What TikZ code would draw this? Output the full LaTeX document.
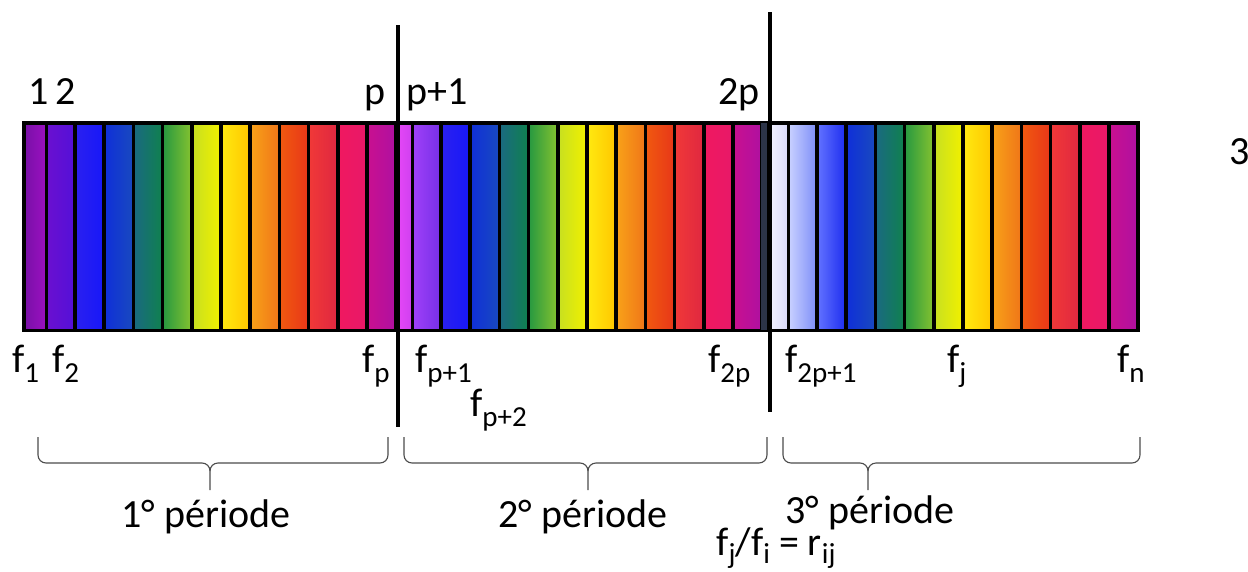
\documentclass[tikz,border=0pt]{standalone}
\usepackage{fontspec}
\setmainfont{Carlito}
\definecolor{p1l}{HTML}{7A10A8}\definecolor{p1r}{HTML}{9A10C0}
\definecolor{v1l}{HTML}{6A10D0}\definecolor{v1r}{HTML}{5510D8}
\definecolor{bl}{HTML}{2A20F0}\definecolor{br}{HTML}{1818F8}
\definecolor{qpl}{HTML}{E848F8}\definecolor{qpr}{HTML}{D040F0}
\definecolor{qvl}{HTML}{A040F8}\definecolor{qvr}{HTML}{7830E8}
\definecolor{wpl}{HTML}{F4F4FF}\definecolor{wpr}{HTML}{D8D8F8}
\definecolor{wvl}{HTML}{C8D0FF}\definecolor{wvr}{HTML}{8090F8}
\definecolor{wbl}{HTML}{6070FF}\definecolor{wbr}{HTML}{2030F0}
\definecolor{b2l}{HTML}{1030D8}\definecolor{b2r}{HTML}{1848C0}
\definecolor{tl}{HTML}{1A6A80}\definecolor{tr}{HTML}{108050}
\definecolor{gl}{HTML}{2A9A40}\definecolor{gr}{HTML}{80C030}
\definecolor{ygl}{HTML}{C8E020}\definecolor{ygr}{HTML}{F0F000}
\definecolor{yl}{HTML}{FFE810}\definecolor{yr}{HTML}{FFC800}
\definecolor{ol}{HTML}{F8A018}\definecolor{or}{HTML}{F07818}
\definecolor{orl}{HTML}{F05810}\definecolor{orr}{HTML}{E83818}
\definecolor{rl}{HTML}{F03838}\definecolor{rr}{HTML}{E02840}
\definecolor{cl}{HTML}{F01860}\definecolor{cr}{HTML}{E81868}
\definecolor{ml}{HTML}{C81090}\definecolor{mr}{HTML}{B010A0}
\definecolor{gapc}{HTML}{2C3448}
\newcommand\fs[1]{f\raisebox{-10pt}{\fontsize{29}{29}\selectfont #1}}
\newcommand\sbx[1]{\raisebox{-8pt}{\fontsize{29}{29}\selectfont #1}}
\begin{document}
\begin{tikzpicture}[x=1pt,y=-1pt,
  lbl/.style={anchor=base west, inner sep=0pt, font=\fontsize{40}{48}\selectfont},
  per/.style={anchor=base, inner sep=0pt, font=\fontsize{40}{48}\selectfont},
  stripebox/.style={draw=black, line width=0.8pt},
  bracepath/.style={draw=black!70, line width=1.1pt, line join=round},
  sepline/.style={draw=black, line width=3.5pt}]
\useasboundingbox[fill=white] (0,0) rectangle (1248,571);
% bar background
\fill[black] (22,121) rectangle (1140,332);
\fill[gapc] (761,123) rectangle (767,330);
% first narrow stripes
\draw[stripebox, left color=p1l, right color=p1r] (25,124) rectangle (45.5,329);
\draw[stripebox, left color=qpl, right color=qpr] (395.5,124) rectangle (411.5,329);
\draw[stripebox, left color=wpl, right color=wpr] (768.5,124) rectangle (787.5,329);
% k = 0 and 1 stripes (period specific)
\draw[stripebox, left color=v1l, right color=v1r] (47,124) rectangle ++(26.5,205);
\draw[stripebox, left color=bl, right color=br] (76.2,124) rectangle ++(26.5,205);
\draw[stripebox, left color=qvl, right color=qvr] (413,124) rectangle ++(26.5,205);
\draw[stripebox, left color=bl, right color=br] (442.2,124) rectangle ++(26.5,205);
\draw[stripebox, left color=wvl, right color=wvr] (789,124) rectangle ++(26.5,205);
\draw[stripebox, left color=wbl, right color=wbr] (818.2,124) rectangle ++(26.5,205);
% shared stripes
\foreach \s in {47,413,789}{
  \foreach \k/\ca/\cb in {2/b2l/b2r,3/tl/tr,4/gl/gr,5/ygl/ygr,6/yl/yr,7/ol/or,8/orl/orr,9/rl/rr,10/cl/cr,11/ml/mr}{
    \draw[stripebox, left color=\ca, right color=\cb] ({\s+\k*29.2},124) rectangle ++(26.5,205);
  }
}
% separating lines
\coordinate (s1t) at (398,25); \coordinate (s1b) at (398,427);
\coordinate (s2t) at (770,12); \coordinate (s2b) at (770,412);
\draw[sepline] (s1t) -- (s1b);
\draw[sepline] (s2t) -- (s2b);
% top labels
\node[lbl] (n1) at (28,104) {1};
\node[lbl] (n2) at (55,104) {2};
\node[lbl] (np) at (364,104) {p};
\node[lbl] (np1) at (406,104) {p+1};
\node[lbl] (n2p) at (718,104) {2p};
\node[lbl] (n3) at (1229,164) {3};
% bottom f labels
\node[lbl] (f1) at (12,372) {\fs{1}};
\node[lbl] (f2) at (52,372) {\fs{2}};
\node[lbl] (fp) at (362,372) {\fs{p}};
\node[lbl] (fp1) at (415,372) {\fs{p+1}};
\node[lbl] (fp2) at (470,416) {\fs{p+2}};
\node[lbl] (f2p) at (708,372) {\fs{2p}};
\node[lbl] (f2p1) at (785,372) {\fs{2p+1}};
\node[lbl] (fj) at (947,372) {\fs{j}};
\node[lbl] (fn) at (1117,372) {\fs{n}};
% braces
\foreach \a/\m/\b/\nm in {38/210/388/A,404/588/767/B,783/868/1140/C}{
  \coordinate (\nm l) at (\a,437);
  \coordinate (\nm t) at (\m,490);
  \coordinate (\nm r) at (\b,437);
  \draw[bracepath] (\nm l) -- (\a,455) to[out=-90,in=180] (\a+8,463) -- (\m-8,463)
     to[out=0,in=90] (\m,471) -- (\nm t);
  \draw[bracepath] (\m,471) to[out=90,in=180] (\m+8,463) -- (\b-8,463)
     to[out=0,in=-90] (\b,455) -- (\nm r);
}
% period labels
\node[per] (P1) at (206,527) {1° période};
\node[per] (P2) at (583,527) {2° période};
\node[per] (P3) at (870,523) {3° période};
\node[per] (R) at (776,555) {f\sbx{j}/f\sbx{i} = r\sbx{ij}};
\end{tikzpicture}
\end{document}
